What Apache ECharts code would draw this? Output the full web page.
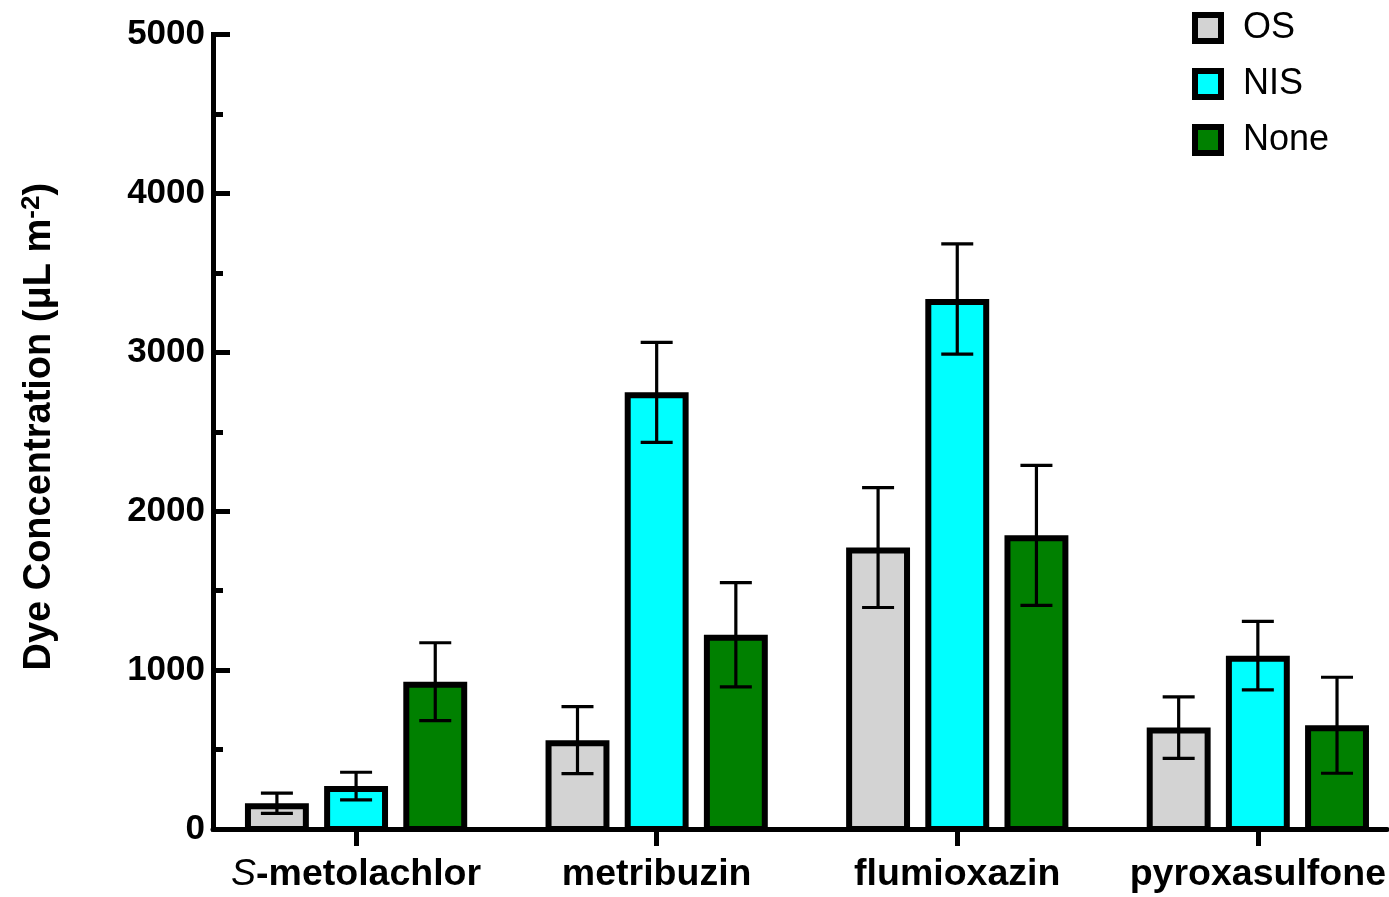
<!DOCTYPE html>
<html>
<head>
<meta charset="utf-8">
<script src="https://cdn.jsdelivr.net/npm/echarts@6/dist/echarts.min.js"></script>
<style>
  html, body { margin: 0; padding: 0; background: #fff; }
  #chart { width: 1389px; height: 897px; }
</style>
</head>
<body>
<div id="chart"></div>
<script>
// Herbicide groups along the x axis
const categories = ['S-metolachlor', 'metribuzin', 'flumioxazin', 'pyroxasulfone'];
// Adjuvant treatments
const treatments = ['OS', 'NIS', 'None'];
// Mean dye concentration (µL m^-2) and error (±) per herbicide
const osMean   = [162, 559, 1771, 638];
const osErr    = [64, 211, 377, 193];
const nisMean  = [270, 2748, 3335, 1091];
const nisErr   = [87, 315, 347, 216];
const noneMean = [927, 1222, 1848, 653];
const noneErr  = [245, 328, 441, 302];
// Y axis range
const yMin = 0, yMax = 5000, yStep = 1000;

const FONT = '"Liberation Sans", Arial, Helvetica, sans-serif';
const colors = { OS: '#d3d3d3', NIS: '#00ffff', None: '#008000' };
const BORDER = 6;        // bar outline width (px)
const SLOT = 0.2634;     // spacing between bars within a group (category units)
const BAR_W = 0.2126;    // outer bar width (category units)
const CAP = 16;          // half-width of error-bar caps (px)
// x extent in category units: first group centre sits ~0.476 units right of the y axis
const X_MIN = -0.476, X_MAX = 3.430;

function rows(mean, err) {
  return categories.map((c, i) => [i, mean[i], err[i]]);
}

function makeRender(slot, fill) {
  return function (params, api) {
    const c = api.value(0), m = api.value(1), e = api.value(2);
    const xc = api.coord([c + slot * SLOT, 0])[0];
    const base = api.coord([c, 0])[1];
    const top = api.coord([c, m])[1];
    const hi = api.coord([c, m + e])[1];
    const lo = api.coord([c, m - e])[1];
    const w = api.size([BAR_W, 0])[0];
    const ebStyle = { stroke: '#000', lineWidth: 3.2 };
    return {
      type: 'group',
      children: [
        {
          type: 'rect',
          shape: { x: xc - w / 2 + BORDER / 2, y: top + BORDER / 2, width: w - BORDER, height: base - top - BORDER / 2 },
          style: { fill: fill, stroke: '#000', lineWidth: BORDER }
        },
        { type: 'line', shape: { x1: xc, y1: hi, x2: xc, y2: lo }, style: ebStyle },
        { type: 'line', shape: { x1: xc - CAP, y1: hi, x2: xc + CAP, y2: hi }, style: ebStyle },
        { type: 'line', shape: { x1: xc - CAP, y1: lo, x2: xc + CAP, y2: lo }, style: ebStyle }
      ]
    };
  };
}

const seriesDefs = [
  { name: 'OS', slot: -1, mean: osMean, err: osErr },
  { name: 'NIS', slot: 0, mean: nisMean, err: nisErr },
  { name: 'None', slot: 1, mean: noneMean, err: noneErr }
];

const chart = echarts.init(document.getElementById('chart'), null, { renderer: 'canvas' });

chart.setOption({
  animation: false,
  backgroundColor: '#fff',
  textStyle: { fontFamily: FONT },
  grid: { left: 213, right: 0, top: 34.5, bottom: 68, containLabel: false },
  legend: {
    orient: 'vertical',
    left: 1192,
    top: 10,
    padding: 0,
    itemWidth: 26,
    itemHeight: 26,
    itemGap: 20,
    icon: 'rect',
    textStyle: { fontFamily: FONT, fontSize: 36, color: '#000', padding: [0, 0, 0, 17] },
    data: treatments.map(t => ({
      name: t,
      icon: 'rect',
      itemStyle: { color: colors[t], borderColor: '#000', borderWidth: BORDER }
    }))
  },
  xAxis: {
    type: 'value',
    min: X_MIN,
    max: X_MAX,
    splitLine: { show: false },
    axisLine: { show: true, onZero: false, lineStyle: { color: '#000', width: 5 } },
    axisTick: {
      show: true, inside: false, length: 17,
      customValues: [0, 1, 2, 3],
      lineStyle: { color: '#000', width: 5 }
    },
    axisLabel: {
      show: true,
      customValues: [0, 1, 2, 3],
      margin: 27,
      fontFamily: FONT,
      fontSize: 37.5,
      fontWeight: 'bold',
      color: '#000',
      formatter: function (v) {
        const name = categories[Math.round(v)];
        if (name === 'S-metolachlor') return '{it|S}-metolachlor';
        return name;
      },
      rich: {
        it: { fontFamily: FONT, fontSize: 37.5, fontStyle: 'italic', fontWeight: 'normal', color: '#000' }
      }
    }
  },
  yAxis: {
    type: 'value',
    min: yMin,
    max: yMax,
    interval: yStep,
    splitLine: { show: false },
    axisLine: { show: true, onZero: false, lineStyle: { color: '#000', width: 5, cap: 'square' } },
    axisTick: { show: true, inside: true, length: 17, lineStyle: { color: '#000', width: 5 } },
    minorTick: { show: true, splitNumber: 2, length: 10, lineStyle: { color: '#000', width: 5 } },
    axisLabel: {
      margin: 8, fontFamily: FONT, fontSize: 35, fontWeight: 'bold', color: '#000',
      padding: [8, 0, 0, 0],
      formatter: function (v) { return String(v); }
    },
    name: 'Dye Concentration (μL m{sup|-2})',
    nameLocation: 'middle',
    nameGap: 152,
    nameRotate: 90,
    nameTextStyle: {
      fontFamily: FONT, fontSize: 38, fontWeight: 'bold', color: '#000',
      padding: [0, 0, 0, 10],
      rich: {
        sup: { fontFamily: FONT, fontSize: 26, fontWeight: 'bold', color: '#000', verticalAlign: 'top', padding: [0, 0, 16, 0] }
      }
    }
  },
  series: seriesDefs.map(s => ({
    name: s.name,
    type: 'custom',
    itemStyle: { color: colors[s.name], borderColor: '#000', borderWidth: BORDER },
    renderItem: makeRender(s.slot, colors[s.name]),
    encode: { x: 0, y: 1 },
    data: rows(s.mean, s.err)
  }))
});
</script>
</body>
</html>
